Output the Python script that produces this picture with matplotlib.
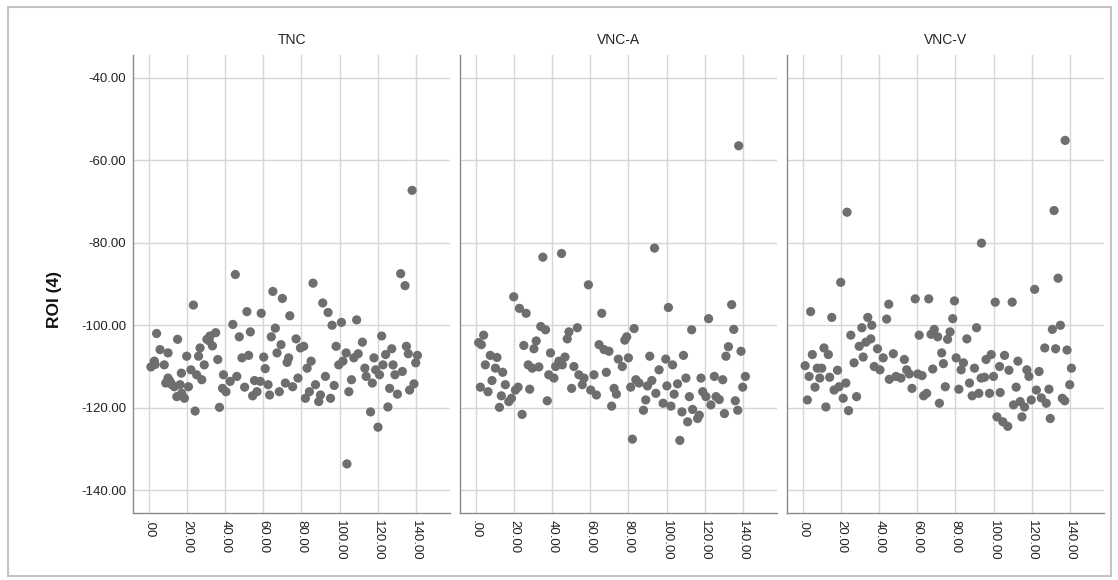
import matplotlib.pyplot as plt
from matplotlib.ticker import FuncFormatter
from matplotlib.patches import Rectangle

plt.rcParams['font.family'] = ['Liberation Sans', 'DejaVu Sans']

panels = ['TNC', 'VNC-A', 'VNC-V']
y_label = 'ROI (4)'
x_ticks = [0, 20, 40, 60, 80, 100, 120, 140]
y_ticks = [-40, -60, -80, -100, -120, -140]

# TNC
tnc_x = [4, 1, 2.8, 5.8, 8, 10, 10, 8.8, 12, 14.6, 15, 17, 16.3, 18.6, 19.8, 20.7, 22, 23.3, 24.2, 25,
         26, 27.7, 26.8, 29, 30.4, 32, 33.3, 35, 36.1, 37, 39.1, 38.6, 40.4, 42.6, 44, 45.3, 46.1, 47.4,
         48.8, 50.2, 51.4, 52.3, 53.2, 54.4, 55.4, 56.7, 58.4, 58.9, 60.2, 61, 62.5, 63.3, 64.2, 65,
         66.3, 67.2, 68.4, 69.3, 70, 71.6, 72.5, 73.3, 73.9, 75.4, 77.2, 78.2, 79.5, 81.2, 82.1, 83,
         84.2, 85.1, 86.1, 87.4, 89.1, 90, 91.2, 92.6, 94, 95.3, 96.1, 97.2, 98.2, 99.6, 101, 101.8,
         103.5, 104.9, 103.9, 106.3, 107.5, 109, 109.8, 112, 113.3, 114, 116.3, 117.2, 118.1, 119,
         120.2, 121, 122.1, 122.8, 124.2, 125.4, 126.3, 127.4, 128.1, 129.1, 130.4, 132.1, 133, 134.4,
         135.1, 136.1, 136.8, 139.1, 140, 140.9, 138.1, 3.2, 11, 13.3, 17.2, 31.6]
tnc_y = [-102, -110.1, -108.7, -105.9, -109.6, -106.7, -112.8, -114, -114.4, -117.3, -103.4, -111.6,
         -114.4, -117.7, -107.5, -114.9, -110.8, -95.1, -120.8, -112, -107.5, -113.2, -105.5, -109.6,
         -103.4, -102.6, -105, -101.8, -108.3, -119.9, -112, -115.3, -116.1, -113.6, -99.8, -87.7,
         -112.4, -102.8, -107.9, -115, -96.7, -107.3, -101.6, -117.1, -113.4, -116.1, -113.6, -97.1,
         -107.7, -110.5, -114.4, -116.9, -102.8, -91.8, -100.7, -106.7, -116.1, -104.7, -93.5, -114,
         -109, -107.9, -97.7, -114.9, -103.3, -112.8, -105.5, -105.1, -117.7, -110.4, -116.1, -108.7,
         -89.8, -114.4, -118.5, -116.9, -94.6, -112.4, -96.9, -117.7, -100, -114.6, -105.1, -109.6,
         -99.3, -108.7, -106.7, -116.1, -133.6, -113.2, -107.9, -98.7, -106.9, -104.1, -110.4, -112.4,
         -121, -114, -107.9, -110.8, -124.7, -112, -102.6, -109.6, -107.1, -119.8, -115.3, -105.7,
         -109.6, -112, -116.7, -87.5, -111.2, -90.4, -105.1, -106.9, -115.7, -114.2, -109.1, -107.3,
         -67.3, -109.5, -113.6, -114.9, -116.5, -103.8]

# VNC-A
vnca_x = [1.4, 4, 2.8, 2.3, 4.9, 6.3, 7.5, 8.4, 10.2, 11, 12.3, 13.3, 14, 15.4, 17.2, 18.6, 19.8, 20.7,
          22.1, 22.8, 24.2, 25.1, 26.3, 27.4, 28.2, 29.5, 30.4, 31.6, 33, 34, 35.1, 36.5, 37.4, 38.2,
          39.1, 40.9, 41.8, 43.5, 44.9, 45.3, 46.7, 47.9, 48.8, 50.2, 51.4, 53.2, 54, 55.8, 56.7, 59,
          60.2, 61.9, 63.2, 64.6, 66, 67.2, 68.4, 69.8, 71.2, 72.5, 73.7, 74.7, 76.8, 78.1, 79.1, 80,
          81.2, 82.1, 83, 83.9, 85.6, 87.9, 89.1, 90, 91.2, 92.3, 94.4, 93.7, 96.1, 98.2, 99.6, 100.2,
          101, 102.3, 103.2, 104, 105.8, 107, 108.1, 108.9, 110.2, 111.1, 112, 113.2, 113.7, 116.3,
          117.2, 118.1, 119, 120.7, 122.1, 123.3, 125.1, 126, 127.7, 129.5, 130.4, 131.2, 132.5, 134.2,
          135.3, 136.1, 137.4, 139.1, 140, 141.4, 137.9]
vnca_y = [-104.2, -102.4, -104.7, -115, -109.6, -116.1, -107.3, -113.4, -110.4, -107.8, -119.9, -117.1,
          -111.4, -114.4, -118.5, -117.7, -93.1, -115.7, -115, -95.9, -121.6, -104.9, -97.1, -109.6,
          -115.5, -110.4, -105.7, -103.8, -110.1, -100.3, -83.5, -101.1, -118.3, -112, -106.7, -112.8,
          -110, -108.7, -82.6, -109.6, -107.7, -103.3, -101.6, -115.3, -110, -100.6, -112, -114.4,
          -112.8, -90.2, -115.7, -112, -116.9, -104.7, -97.1, -105.9, -111.4, -106.3, -119.6, -115.3,
          -116.7, -108.2, -110, -103.6, -102.8, -107.9, -115, -127.6, -100.8, -113.2, -114, -120.6,
          -118.1, -114.7, -107.5, -113.4, -116.5, -81.3, -110.8, -118.9, -108.2, -114.7, -95.7, -119.6,
          -109.6, -116.7, -114.2, -127.9, -121, -107.3, -112.8, -123.4, -117.3, -101.1, -120.4, -122.6,
          -121.8, -112.8, -116.1, -117.3, -98.4, -119.3, -112.4, -117.3, -118, -113.2, -121.4, -107.5,
          -105.2, -95, -101, -118.3, -120.6, -106.3, -115, -112.4, -56.5]

# VNC-V
vncv_x = [1.1, 2.3, 3.2, 4, 4.9, 6.3, 7.5, 8.8, 9.8, 11, 12, 13.3, 14, 15.1, 16.3, 18.1, 18.9, 19.8,
          21.1, 22.5, 23.9, 23.1, 25.1, 26.8, 28.1, 29.5, 30.9, 31.6, 33, 34, 35.6, 36.1, 37.4, 39.1,
          40.4, 42.1, 43.9, 45, 45.3, 47.4, 48.8, 51.4, 53.2, 54.4, 55.8, 57.2, 58.9, 60.2, 61, 62.5,
          63.3, 64.9, 66, 67.2, 68.1, 68.9, 70.7, 71.6, 72.8, 73.7, 74.7, 75.9, 77.2, 78.6, 79.5, 80.4,
          81.8, 83, 84.2, 86, 87.4, 88.8, 90, 91.1, 92.3, 93.5, 95.3, 96.1, 97.9, 98.8, 100, 93.7,
          100.9, 101.8, 103.2, 103.5, 104.9, 105.8, 107.5, 108.1, 109.8, 110.5, 111.9, 112.8, 114,
          114.9, 116.3, 117.5, 118.6, 119.8, 121.6, 122.5, 123.9, 125.1, 126.9, 127.7, 129.1, 129.8,
          130.9, 132.6, 133.9, 135.1, 136.1, 137.4, 138.6, 140, 140.9, 131.8, 137.6]
vncv_y = [-109.8, -118.1, -112.4, -96.7, -107.1, -115, -110.4, -112.8, -110.4, -105.5, -119.8, -107.1,
          -112.6, -98.1, -115.7, -110.9, -114.9, -89.6, -117.7, -114, -120.7, -72.6, -102.4, -109.1,
          -117.3, -105.1, -100.6, -107.7, -104.1, -98.1, -103.3, -100, -110, -105.7, -110.8, -107.9,
          -98.5, -94.9, -113.1, -106.9, -112.4, -112.8, -108.3, -110.8, -111.8, -115.3, -93.6, -111.8,
          -102.4, -112.2, -117.1, -116.5, -93.6, -102.2, -110.6, -101, -102.8, -118.9, -106.7, -109.3,
          -114.9, -103.4, -101.6, -98.4, -94.1, -107.9, -115.5, -110.8, -109.1, -103.3, -114, -117.1,
          -110.4, -100.6, -116.5, -112.8, -112.6, -108.3, -116.5, -107.1, -112.4, -80.1, -94.4, -122.2,
          -110, -116.3, -123.4, -107.3, -124.5, -110.9, -94.4, -119.3, -115, -108.7, -118.5, -122.2,
          -119.8, -110.8, -112.4, -118.1, -91.3, -115.7, -111.2, -117.6, -105.5, -118.9, -115.5, -122.6,
          -101, -105.7, -88.6, -100, -117.7, -118.3, -106, -114.4, -110.4, -72.2, -55.2]

xs = [tnc_x, vnca_x, vncv_x]
ys = [tnc_y, vnca_y, vncv_y]


def fmt(v, pos):
    s = f'{v:.2f}'
    if s.startswith('0.'):
        s = s[1:]
    return s


fig = plt.figure(figsize=(11.18, 5.80), dpi=100)

# screenshot frame
fig.patches.append(Rectangle((8 / 1118, 4 / 580), 1103 / 1118, 569 / 580, transform=fig.transFigure,
                             fill=False, edgecolor='#c4c4c4', linewidth=1.5))

lefts = [133, 460, 787]
for i, name in enumerate(panels):
    ax = fig.add_axes([lefts[i] / 1118, 1 - 513 / 580, 317 / 1118, 458 / 580])
    ax.scatter(xs[i], ys[i], s=44, color='#6e6e6e', edgecolors='none', zorder=3)
    ax.set_xlim(-8.4, 158)
    ax.set_ylim(-145.5, -34.5)
    ax.set_xticks(x_ticks)
    ax.set_yticks(y_ticks)
    ax.xaxis.set_major_formatter(FuncFormatter(fmt))
    ax.yaxis.set_major_formatter(FuncFormatter(fmt))
    ax.grid(True, color='#d6d6d6', linewidth=1)
    ax.set_axisbelow(True)
    for sp in ['top', 'right']:
        ax.spines[sp].set_visible(False)
    for sp in ['left', 'bottom']:
        ax.spines[sp].set_color('#8a8a8a')
        ax.spines[sp].set_linewidth(1)
    ax.tick_params(length=0, labelsize=9.5, colors='#222222', pad=5)
    ax.tick_params(axis='x', labelrotation=-90)
    if i > 0:
        ax.tick_params(axis='y', labelleft=False)
    ax.set_title(name, fontsize=10, color='#222222', pad=8)

fig.text(55 / 1118, 1 - 300 / 580, y_label, rotation=90, ha='center', va='center',
         fontsize=12.5, fontweight='bold', color='#111111')

fig.savefig('out.png', dpi=100)
